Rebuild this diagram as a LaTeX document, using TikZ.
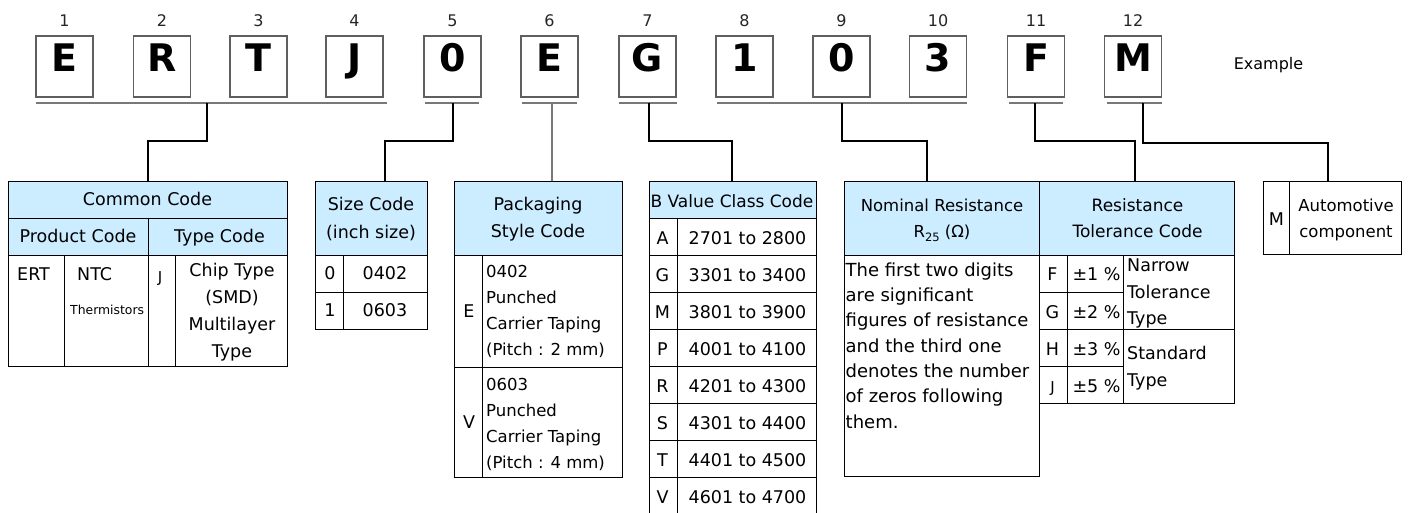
\documentclass[tikz,border=0pt]{standalone}
\usepackage{fontspec}
\setmainfont{DejaVu Sans}
\definecolor{hdr}{RGB}{204,236,255}
\definecolor{bxg}{RGB}{95,95,95}
\definecolor{ulg}{RGB}{120,120,120}
\tikzset{
  t/.style={inner sep=0pt, anchor=base},
  tw/.style={inner sep=0pt, anchor=base west},
  ml/.style={inner sep=0pt, anchor=north, align=center},
  mlw/.style={inner sep=0pt, anchor=north west, align=left},
  letterbox/.style={draw=bxg, line width=1.4pt, minimum width=57pt, minimum height=61pt, inner sep=0pt},
  letterch/.style={inner sep=0pt, text height=0.729em, text depth=0pt, font=\fontsize{38}{38}\selectfont\bfseries},
  numlbl/.style={t, font=\fontsize{16}{16}\selectfont, text=black!85},
  uline/.style={draw=ulg, line width=1.5pt},
  conn/.style={draw=black, line width=2pt},
  connE/.style={draw=ulg, line width=1.3pt},
  tline/.style={draw=black, line width=1pt},
  sA/.style={font=\fontsize{17.5}{27}\selectfont},
  sB/.style={font=\fontsize{16.5}{26}\selectfont},
  sC/.style={font=\fontsize{18}{25.3}\selectfont},
  sJ/.style={font=\fontsize{15}{15}\selectfont},
}
\begin{document}
\begin{tikzpicture}[x=1pt,y=-1pt]
\useasboundingbox (0,0) rectangle (1410,512);
\fill[white] (0,0) rectangle (1410,512);

% ---- letter boxes and position numbers
\foreach \i/\x/\c in {1/64.5/E, 2/162/R, 3/258.5/T, 4/354.5/J, 5/452.5/0, 6/549.5/E,
                      7/647.5/G, 8/744.5/1, 9/841.5/0, 10/938/3, 11/1036/F, 12/1133/M}{
  \node[letterbox] (b\i) at (\x,66.5) {};
  \node[letterch] (c\i) at (\x,67.5) {\c};
  \node[numlbl] (n\i) at (\x,26.3) {\i};
}
\node[t, font=\fontsize{16}{16}\selectfont] (example) at (1268.5,69) {Example};

% ---- underlines
\draw[uline] (36,103) -- (387,103);
\draw[uline] (425,103) -- (479,103);
\draw[uline] (522,103) -- (577,103);
\draw[uline] (619,103) -- (677,103);
\draw[uline] (717,103) -- (967,103);
\draw[uline] (1009,103) -- (1063,103);
\draw[uline] (1107,103) -- (1162,103);
\coordinate (u1) at (207,103);
\coordinate (u5) at (453,103);
\coordinate (u6) at (552,103);
\coordinate (u7) at (649,103);
\coordinate (u8) at (842,103);
\coordinate (u11) at (1035,103);
\coordinate (u12) at (1143,103);

% ---- table tops
\coordinate (tCommon) at (148,181);
\coordinate (tSize) at (385,181);
\coordinate (tPack) at (552,181);
\coordinate (tB) at (732,181);
\coordinate (tNom) at (927,181);
\coordinate (tTol) at (1135,181);
\coordinate (tAuto) at (1328,181);

% ---- connectors
\draw[conn] (u1) -- ++(0,38) -| (tCommon);
\draw[conn] (u5) -- ++(0,38) -| (tSize);
\draw[connE] (u6) -- (tPack);
\draw[conn] (u7) -- ++(0,38) -| (tB);
\draw[conn] (u8) -- ++(0,38) -| (tNom);
\draw[conn] (u11) -- ++(0,38) -| (tTol);
\draw[conn] (u12) -- ++(0,40) -| (tAuto);

% ---- Common Code table
\fill[hdr] (8,181) rectangle (287,255);
\draw[tline] (8,181) rectangle (287,366);
\draw[tline] (8,218) -- (287,218) (8,255) -- (287,255)
  (148,218) -- (148,366) (64,255) -- (64,366) (175,255) -- (175,366);
\node[t, sA] (cc) at (147.5,205.9) {Common Code};
\node[t, sA] (pc) at (78,242.9) {Product Code};
\node[t, sA] (tc) at (219.5,242.9) {Type Code};
\node[tw, sA] (ert) at (17,280.6) {ERT};
\node[tw, sA] (ntc) at (77,280.6) {NTC};
\node[tw, font=\fontsize{12.4}{12.4}\selectfont] (therm) at (70,314.5) {Thermistors};
\node[t, sJ] (jcode) at (160,282.8) {J};
\node[ml, font=\fontsize{17.5}{26.8}\selectfont] (chip) at (232,263.1) {Chip Type\\(SMD)\\Multilayer\\Type};

% ---- Size Code table
\fill[hdr] (315,181) rectangle (427,255);
\draw[tline] (315,181) rectangle (427,329);
\draw[tline] (315,255) -- (427,255) (315,292) -- (427,292) (343,255) -- (343,329);
\node[ml, font=\fontsize{17.5}{27.5}\selectfont] (sizeh) at (371,197) {Size Code\\(inch size)};
\node[t, sA] (s0) at (330,279.9) {0};
\node[t, sA] (s0v) at (385,279.9) {0402};
\node[t, sA] (s1) at (330,316.4) {1};
\node[t, sA] (s1v) at (385,316.4) {0603};

% ---- Packaging Style Code table
\fill[hdr] (454,181) rectangle (622,255);
\draw[tline] (454,181) rectangle (622,477);
\draw[tline] (454,255) -- (622,255) (454,367) -- (622,367) (482,255) -- (482,477);
\node[ml, sA] (packh) at (538,197.1) {Packaging\\Style Code};
\node[t, sA] (pe) at (469,317.9) {E};
\node[t, sA] (pv) at (469,428.9) {V};
\node[mlw, sB] (pet) at (486,265.5) {0402\\Punched\\Carrier Taping\\(Pitch : 2 mm)};
\node[mlw, sB] (pvt) at (486,378) {0603\\Punched\\Carrier Taping\\(Pitch : 4 mm)};

% ---- B Value Class Code table
\fill[hdr] (649,181) rectangle (816,218);
\draw[tline] (649,514) -- (649,181) -- (816,181) -- (816,514);
\draw[tline] (649,218) -- (816,218) (677,218) -- (677,514);
\foreach \yy in {255,292,329,366,403,440,477}{
  \draw[tline] (649,\yy) -- (816,\yy);
}
\node[t, font=\fontsize{17}{17}\selectfont] (bh) at (732,207.7) {B Value Class Code};
\foreach \k/\l/\v in {0/A/2701 to 2800, 1/G/3301 to 3400, 2/M/3801 to 3900, 3/P/4001 to 4100,
                      4/R/4201 to 4300, 5/S/4301 to 4400, 6/T/4401 to 4500, 7/V/4601 to 4700}{
  \node[t, sA] (bl\k) at (662.5,244.9+36.9*\k) {\l};
  \node[t, sA] (bv\k) at (747.5,244.9+36.9*\k) {\v};
}

% ---- Nominal Resistance table
\fill[hdr] (844,181) rectangle (1039,255);
\draw[tline] (844,181) rectangle (1039,476);
\draw[tline] (844,255) -- (1039,255);
\node[ml, sB] (nomh) at (942,198.5) {Nominal Resistance\\R\raisebox{-0.28em}{\fontsize{11.5}{11.5}\selectfont 25} (Ω)};
\node[mlw, sC] (nomt) at (845.5,262.4) {The first two digits\\are significant\\figures of resistance\\and the third one\\denotes the number\\of zeros following\\them.};

% ---- Resistance Tolerance Code table
\fill[hdr] (1039,181) rectangle (1234,255);
\draw[tline] (1039,181) rectangle (1234,403);
\draw[tline] (1039,255) -- (1234,255) (1039,329) -- (1234,329)
  (1039,292) -- (1123,292) (1039,366) -- (1123,366)
  (1067,255) -- (1067,403) (1123,255) -- (1123,403);
\node[ml, font=\fontsize{17}{26}\selectfont] (tolh) at (1137.5,198.3) {Resistance\\Tolerance Code};
\node[t, sA] (tf) at (1052.5,280.4) {F};
\node[t, sA] (tg) at (1052.5,318.4) {G};
\node[t, sA] (th) at (1052.5,355.4) {H};
\node[t, sJ] (tj) at (1052.5,392.2) {J};
\node[t, sA] (pf) at (1096.5,280.4) {±1 \%};
\node[t, sA] (pg) at (1096.5,318.4) {±2 \%};
\node[t, sA] (ph) at (1096.5,355.4) {±3 \%};
\node[t, sA] (pj) at (1096.5,392.4) {±5 \%};
\node[mlw, font=\fontsize{17.5}{26.7}\selectfont] (narrow) at (1127,258.6) {Narrow\\Tolerance\\Type};
\node[mlw, font=\fontsize{17.5}{27.5}\selectfont] (std) at (1127,345.6) {Standard\\Type};

% ---- Automotive table
\draw[tline] (1263,181) rectangle (1401,254);
\draw[tline] (1289,181) -- (1289,254);
\node[t, sA] (am) at (1276.5,225.4) {M};
\node[ml, sB] (auto) at (1346,199) {Automotive\\component};
\end{tikzpicture}
\end{document}
